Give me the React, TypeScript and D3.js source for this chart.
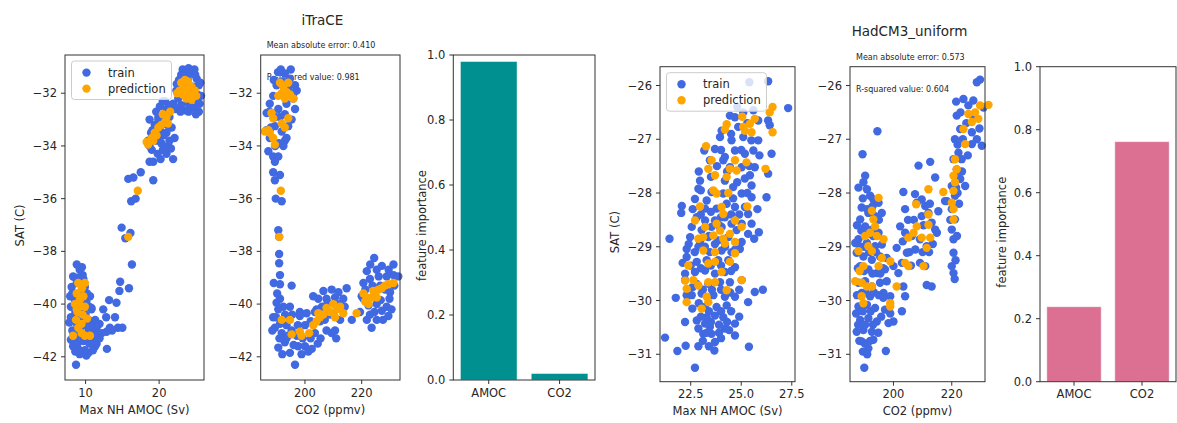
import * as d3 from 'd3';

// ---- data ----
const legendLabels = ['train', 'prediction'];
const featureNames = ['AMOC', 'CO2'];
const itraceImportance = [0.98, 0.02];
const hadcmImportance = [0.238, 0.762];

const satTicksItrace = [-42, -40, -38, -36, -34, -32];
const satTicksHadcm = [-31, -30, -29, -28, -27, -26];
const amocTicksItrace = [10, 20];
const amocTicksHadcm = [22.5, 25.0, 27.5];
const co2Ticks = [200, 220];
const importanceTicks = [0, 0.2, 0.4, 0.6, 0.8, 1.0];

const itraceAmocTrain = [
	[23.2, -31.1], [23.7, -31.2], [24.4, -31.25], [25.1, -31.45], [25.4, -31.7], [25.2, -32.05], [25.5, -32.4], [25.4, -32.7],
	[24.75, -32.55], [24.2, -32.5], [23.5, -32.65], [23.0, -32.45], [22.6, -32.2], [22.35, -31.9], [22.7, -31.5], [21.9, -32.4],
	[21.45, -32.45], [20.8, -32.3], [23.9, -31.5], [24.6, -31.75], [23.7, -32.1], [25.05, -32.25], [23.3, -31.85], [24.25, -31.95],
	[24.9, -31.3], [23.0, -31.3], [22.2, -32.6], [24.0, -31.05], [24.8, -31.1], [25.6, -31.6], [25.7, -32.1], [23.9, -32.35],
	[22.9, -32.7], [24.0, -32.7], [25.0, -32.8], [22.4, -31.65], [21.3, -32.7],
	[18.7, -33.0], [19.6, -32.7], [20.1, -32.5], [20.5, -32.3], [21.0, -32.6], [21.4, -32.9], [21.7, -33.3], [22.1, -33.7],
	[21.9, -34.5], [19.2, -34.6], [19.0, -34.15], [18.7, -34.0], [19.6, -33.8], [20.5, -34.15], [21.2, -34.0], [21.0, -33.5],
	[20.1, -33.4], [19.4, -33.2], [18.9, -33.5], [18.5, -33.8], [19.9, -33.0], [20.7, -33.1], [21.4, -33.8], [20.3, -33.9],
	[19.8, -34.3], [21.6, -34.1], [19.3, -33.6], [20.0, -33.75], [20.6, -33.6], [21.0, -34.3], [19.9, -32.9], [19.1, -33.4],
	[20.9, -32.9], [18.7, -34.6], [20.2, -34.5], [21.1, -33.2],
	[19.2, -35.3], [15.8, -35.25], [16.5, -35.2], [17.5, -35.0], [16.2, -36.1], [16.8, -36.0], [14.9, -37.1], [15.4, -37.5],
	[16.1, -37.3], [16.3, -38.5], [15.9, -39.4], [14.7, -39.15], [14.6, -39.5], [13.2, -39.85], [14.2, -39.95],
	[12.4, -40.2], [12.8, -40.5], [14.0, -40.5], [13.3, -40.9], [14.4, -40.9], [15.0, -40.9], [13.6, -41.0], [12.85, -41.05],
	[12.9, -41.7], [11.9, -40.75], [11.5, -40.9], [12.2, -41.1], [11.3, -40.6], [10.8, -40.15], [11.3, -41.6], [10.4, -41.85],
	[8.8, -38.5], [9.2, -38.7], [8.3, -38.95], [9.6, -38.9], [8.1, -39.35], [8.8, -39.2], [9.9, -39.35], [7.9, -39.7],
	[8.55, -39.85], [10.6, -39.7], [8.0, -40.1], [10.5, -40.1], [10.8, -40.2], [7.8, -40.7], [8.4, -40.5], [10.4, -40.6],
	[11.3, -40.8], [8.2, -41.0], [9.2, -41.0], [10.7, -41.0], [11.5, -41.1], [8.55, -41.35], [9.7, -41.4], [10.8, -41.3],
	[11.5, -41.5], [9.0, -41.7], [9.2, -41.9], [10.1, -41.95], [8.7, -42.3], [9.9, -41.75], [11.0, -41.75], [8.0, -41.35],
	[9.45, -41.1], [10.2, -41.1], [8.8, -40.75], [9.7, -40.35], [9.1, -39.6], [10.2, -39.6], [8.9, -40.1], [10.05, -40.0],
	[8.4, -39.6], [9.5, -38.6], [8.6, -39.0], [9.0, -39.0], [9.4, -39.1], [8.2, -39.6], [8.6, -40.3], [9.3, -40.5],
	[10.0, -40.4], [10.4, -40.9], [9.9, -40.8], [8.5, -41.1], [9.0, -41.2], [8.3, -41.6], [8.9, -41.5], [9.6, -41.8],
	[10.5, -41.5], [10.0, -41.3], [11.0, -41.3], [10.8, -40.7], [11.9, -41.3], [9.7, -39.05], [10.1, -39.9], [8.0, -40.5],
	[8.6, -41.8]
];
const itraceAmocPred = [
	[23.0, -31.6], [23.5, -31.5], [23.9, -31.55], [24.4, -31.75], [24.85, -31.9], [25.05, -32.1], [24.4, -32.25], [23.7, -32.2],
	[23.2, -32.05], [22.8, -31.9], [23.7, -31.85], [24.2, -32.0], [24.6, -32.0], [23.4, -31.75], [22.45, -32.0],
	[18.3, -33.85], [18.5, -33.95], [19.0, -33.7], [19.4, -33.5], [19.9, -33.3], [20.3, -33.2], [20.8, -33.1], [21.0, -32.9],
	[20.5, -32.8], [21.2, -33.15], [19.65, -33.6], [21.5, -32.7], [19.2, -33.8],
	[17.1, -35.7], [15.8, -37.45],
	[9.0, -39.2], [9.9, -39.2], [9.5, -39.4], [8.8, -39.6], [9.7, -39.7], [8.55, -40.0], [9.2, -40.05], [9.9, -40.1],
	[8.9, -40.3], [9.6, -40.4], [8.7, -40.6], [9.45, -40.75], [10.2, -40.55], [9.0, -40.9], [8.3, -41.2], [9.45, -41.1],
	[9.9, -41.2], [10.6, -41.2], [9.2, -39.85], [8.8, -40.2]
];

const itraceCo2Train = [
	[191.5, -31.1], [192.9, -31.25], [194.7, -31.45], [196.5, -31.7], [197.1, -31.9], [195.9, -32.2], [196.5, -32.6], [190.0, -31.7],
	[188.8, -32.1], [187.6, -32.4], [188.2, -32.75], [190.6, -32.6], [192.9, -32.8], [194.1, -33.25], [191.8, -33.45], [189.4, -33.25],
	[187.6, -33.7], [192.9, -33.8], [192.4, -34.0], [187.1, -34.2], [188.8, -34.4], [190.6, -34.4], [189.4, -34.6], [188.8, -35.0],
	[189.4, -35.3], [191.2, -35.1], [189.7, -36.0], [191.8, -36.1], [190.6, -37.2], [190.9, -37.45], [190.9, -38.1], [190.9, -38.45],
	[191.2, -38.9], [191.2, -39.25], [195.3, -39.3], [191.2, -39.8], [190.0, -39.95], [194.7, -40.1], [198.2, -40.3], [194.1, -31.8],
	[186.5, -32.75], [186.5, -33.4], [193.5, -32.4], [195.3, -33.0], [189.0, -31.5], [190.5, -31.2], [192.0, -31.55], [193.3, -31.6],
	[195.0, -31.1], [187.5, -32.7], [189.5, -32.9], [191.2, -32.9], [193.5, -33.7], [190.8, -33.9], [188.0, -33.3], [196.0, -32.0],
	[189.5, -34.0],
	[188.8, -40.5], [190.6, -40.2], [192.4, -40.1], [189.4, -40.9], [191.8, -41.1], [193.5, -40.8], [195.3, -41.0], [190.6, -41.65],
	[192.9, -41.45], [194.7, -41.85], [196.5, -42.3], [197.6, -41.6], [198.8, -41.9], [200.0, -41.6], [201.2, -41.8], [202.4, -41.7],
	[198.2, -40.45], [200.0, -40.8], [197.1, -41.2], [191.2, -40.75], [193.5, -41.3], [189.8, -40.5], [191.0, -41.3], [192.0, -41.9],
	[194.0, -41.2], [196.0, -41.55], [195.5, -40.4], [197.5, -40.8], [199.2, -41.3], [202.0, -41.3], [204.5, -41.5], [193.0, -40.4],
	[188.5, -41.0], [190.2, -39.6], [189.0, -39.2],
	[202.9, -39.7], [204.7, -39.8], [204.1, -40.2], [206.5, -39.5], [207.6, -39.8], [209.4, -39.45], [210.6, -39.75], [211.8, -39.55],
	[213.5, -39.8], [214.7, -39.4], [205.3, -40.65], [202.0, -40.65], [207.6, -41.0], [209.4, -41.1], [210.6, -41.0], [212.4, -40.6],
	[208.8, -40.4], [203.5, -41.1], [200.6, -40.35], [216.5, -40.6], [203.5, -40.3], [206.0, -40.1], [208.0, -39.95], [210.0, -40.4],
	[212.0, -40.0], [214.0, -40.1], [205.5, -41.3], [207.0, -40.6], [211.0, -41.3],
	[224.4, -38.25], [231.2, -38.5], [221.8, -38.75], [225.3, -38.7], [227.1, -38.55], [228.8, -38.95], [231.2, -38.9], [220.6, -39.2],
	[222.9, -39.05], [226.5, -39.3], [228.2, -39.45], [230.0, -39.55], [220.6, -39.8], [222.4, -40.05], [225.3, -40.0], [227.1, -40.25],
	[228.8, -40.1], [229.4, -40.45], [221.8, -40.6], [223.5, -40.9], [225.3, -40.6], [220.0, -39.7], [232.9, -38.95], [219.4, -40.3],
	[223.0, -38.5], [226.0, -38.95], [229.5, -38.7], [221.3, -39.45], [223.8, -39.3], [226.7, -39.85], [229.8, -39.8], [231.5, -39.3],
	[222.9, -40.4], [224.5, -40.3], [227.5, -40.6], [230.5, -40.2]
];
const itraceCo2Pred = [
	[191.2, -31.6], [192.4, -31.75], [193.5, -31.95], [194.7, -32.05], [195.9, -32.2], [190.6, -32.1], [191.8, -32.0], [192.9, -32.2],
	[194.1, -31.6], [188.2, -32.75], [188.8, -32.95], [191.8, -33.15], [192.9, -33.3], [194.1, -32.95], [185.9, -33.45], [187.6, -33.5],
	[188.8, -33.7], [189.4, -33.95], [187.1, -33.4], [191.5, -35.7], [190.9, -37.45],
	[191.8, -40.6], [194.7, -40.6], [195.3, -41.15], [198.2, -41.05], [198.8, -41.2], [201.5, -41.1], [202.9, -40.8], [204.1, -40.65],
	[205.3, -40.5], [204.7, -40.35], [206.5, -40.4], [207.6, -40.15], [208.8, -40.3], [210.0, -40.0], [211.2, -40.2], [212.4, -40.1],
	[210.6, -40.5], [213.5, -40.35], [218.2, -40.35], [220.6, -39.6], [221.2, -39.9], [222.4, -40.0], [223.5, -39.75], [224.7, -39.6],
	[225.9, -39.45], [227.1, -39.4], [228.2, -39.3], [229.4, -39.25], [231.2, -39.2], [224.1, -39.5], [221.8, -39.75], [225.3, -39.75]
];

const hadcmAmocTrain = [
	[26.33, -25.92], [25.4, -25.94], [27.32, -26.42], [24.44, -26.56], [24.69, -26.59], [25.1, -26.5], [25.6, -26.46], [25.84, -26.65],
	[26.33, -26.65], [26.41, -26.74], [24.85, -26.77], [24.03, -26.84], [23.95, -26.96], [24.52, -27.02], [25.1, -26.96], [25.5, -27.02],
	[25.84, -27.02], [23.17, -27.21], [23.7, -27.18], [24.19, -27.33], [24.69, -27.21], [25.18, -27.27], [25.6, -27.21], [26.5, -27.27],
	[26.33, -27.64], [25.67, -27.52], [25.02, -27.52], [24.44, -27.52], [24.11, -27.39], [23.45, -27.39], [22.96, -27.77], [23.5, -27.7],
	[24.19, -27.77], [24.6, -27.89], [25.18, -27.73], [25.51, -27.86], [25.43, -27.67], [26.25, -28.08], [25.51, -28.08], [25.02, -28.01],
	[24.11, -28.01], [23.53, -27.98], [22.88, -27.92], [22.71, -28.11], [23.29, -28.14], [22.06, -28.24], [22.03, -28.37], [23.21, -28.29],
	[23.78, -28.29], [24.28, -28.2], [24.69, -28.26], [25.18, -28.26], [25.34, -28.39], [25.51, -28.57], [22.8, -28.45], [23.21, -28.51],
	[23.7, -28.51], [24.19, -28.45], [24.52, -28.57], [25.02, -28.57], [22.55, -28.63], [23.04, -28.69], [23.53, -28.63], [24.03, -28.63],
	[24.77, -28.69], [25.34, -28.76], [25.87, -28.73], [25.64, -28.85], [21.45, -28.85], [22.47, -28.82], [22.96, -28.91], [23.37, -28.82],
	[23.86, -28.88], [24.36, -28.82], [25.02, -28.91], [22.3, -29.04], [22.88, -29.0], [23.45, -29.1], [24.03, -29.07], [24.52, -29.1],
	[24.93, -29.04], [22.3, -29.19], [22.8, -29.28], [23.29, -29.25], [23.86, -29.25], [24.36, -29.25], [24.69, -29.38], [22.22, -29.5],
	[22.71, -29.47], [23.21, -29.44], [23.7, -29.5], [24.19, -29.47], [22.22, -29.62], [22.8, -29.69], [23.37, -29.69], [23.95, -29.66],
	[24.44, -29.66], [25.02, -29.62], [25.67, -29.84], [26.07, -29.8], [21.76, -29.95], [22.55, -29.9], [23.04, -29.87], [23.62, -29.9],
	[24.19, -29.93], [24.69, -29.93], [25.34, -30.03], [22.58, -30.15], [23.21, -30.12], [23.78, -30.12], [24.28, -30.09], [22.22, -30.4],
	[22.8, -30.37], [23.29, -30.31], [23.7, -30.28], [24.11, -30.31], [24.69, -30.43], [22.88, -30.52], [23.45, -30.49], [24.19, -30.52],
	[24.69, -30.65], [21.23, -30.69], [23.53, -30.62], [23.7, -30.77], [22.88, -30.85], [22.25, -30.84], [21.84, -30.94], [23.67, -30.93],
	[25.38, -30.86], [22.71, -31.25], [23.12, -30.62], [23.21, -30.43],
	[22.6, -28.3], [23.0, -28.4], [23.5, -28.35], [24.0, -28.45], [24.5, -28.4], [22.4, -28.95], [22.7, -29.1], [23.2, -29.0],
	[23.7, -28.95], [24.2, -29.0], [24.7, -29.05], [22.5, -29.35], [23.0, -29.4], [23.5, -29.35], [24.0, -29.35], [24.5, -29.45],
	[22.6, -29.75], [23.1, -29.8], [23.55, -29.8], [24.0, -29.8], [24.45, -29.85], [24.9, -29.8], [22.9, -30.05], [23.4, -30.2],
	[24.0, -30.2], [24.5, -30.2], [23.0, -30.3], [23.5, -30.4], [23.9, -30.45], [23.3, -30.6], [23.9, -30.6], [24.4, -30.55],
	[23.1, -30.75], [23.4, -30.85], [24.0, -30.7], [24.3, -30.4], [23.8, -27.5], [24.3, -27.6], [24.8, -27.8], [25.3, -28.0],
	[23.0, -27.95], [24.6, -28.1], [24.0, -27.2], [24.5, -26.9], [25.0, -27.2], [25.3, -26.7], [24.8, -26.4], [25.4, -27.5],
	[25.9, -27.3], [25.8, -28.3], [23.4, -28.8], [23.9, -28.6], [24.9, -28.4], [22.9, -27.6], [24.9, -30.3], [22.3, -29.9],
	[22.1, -29.3]
];
const hadcmAmocPred = [
	[26.55, -26.4], [26.41, -26.5], [25.67, -26.62], [25.43, -26.71], [25.1, -26.77], [25.05, -26.58], [25.51, -26.87], [25.18, -26.84],
	[24.28, -26.72], [24.19, -26.82], [26.55, -26.87], [23.26, -27.13], [23.53, -27.39], [23.37, -27.55], [23.7, -27.67], [24.69, -27.39],
	[25.26, -27.43], [24.44, -27.55], [24.77, -27.58], [24.28, -27.7], [26.2, -27.55], [23.62, -27.95], [23.78, -28.01], [24.36, -28.0],
	[24.03, -28.26], [24.11, -28.39], [25.3, -28.25], [22.96, -28.25], [22.71, -28.51], [23.21, -28.63], [23.78, -28.57], [23.95, -28.7],
	[24.69, -28.51], [25.02, -28.63], [22.88, -28.85], [23.12, -28.82], [23.62, -28.79], [24.11, -28.85], [24.44, -28.76], [24.69, -28.91],
	[23.12, -29.07], [23.7, -29.1], [24.19, -28.94], [24.69, -29.12], [23.37, -29.31], [23.7, -29.28], [24.44, -29.28], [24.03, -29.47],
	[22.38, -29.35], [22.22, -29.63], [22.63, -29.62], [22.88, -29.72], [23.37, -29.66], [23.7, -29.66], [22.3, -29.78], [25.02, -29.62],
	[24.28, -29.81], [23.29, -29.93], [22.3, -30.03], [23.04, -30.15], [23.37, -30.03]
];

const hadcmCo2Train = [
	[189.4, -27.28], [194.5, -26.85], [190.3, -27.68], [189.7, -27.8], [190.9, -27.93], [192.0, -28.05], [193.1, -28.12], [194.9, -28.18],
	[189.1, -28.27], [191.4, -28.37], [193.7, -28.43], [196.0, -28.37], [188.6, -28.49], [190.3, -28.62], [192.6, -28.68], [194.9, -28.74],
	[188.0, -28.86], [190.9, -28.93], [193.7, -28.99], [196.0, -28.96], [187.4, -29.11], [189.7, -29.18], [192.6, -29.24], [195.4, -29.18],
	[197.7, -29.21], [188.6, -29.36], [191.4, -29.42], [194.3, -29.49], [197.1, -29.42], [188.0, -29.67], [190.3, -29.64], [192.6, -29.74],
	[195.4, -29.67], [197.7, -29.64], [189.1, -29.86], [192.0, -29.92], [196.6, -29.86], [198.9, -29.92], [188.0, -30.11], [190.9, -30.08],
	[193.7, -30.14], [197.1, -30.17], [188.6, -30.36], [191.4, -30.33], [194.3, -30.39], [198.3, -30.42], [187.4, -30.58], [189.7, -30.55],
	[192.6, -30.58], [189.1, -30.76], [191.4, -30.89], [193.1, -30.73], [197.4, -30.94], [190.0, -31.25], [187.2, -30.24], [198.9, -30.24],
	[186.9, -28.93], [188.0, -27.9], [189.5, -28.1], [191.0, -28.3], [192.8, -28.25], [194.0, -28.5], [189.0, -28.7], [191.5, -28.75],
	[193.0, -28.8], [195.0, -28.5], [187.5, -28.6], [188.5, -29.0], [190.0, -29.0], [191.7, -29.1], [194.0, -29.1], [196.5, -29.4],
	[187.8, -29.4], [189.9, -29.45], [192.8, -29.5], [195.5, -29.5], [187.5, -29.9], [190.5, -29.85], [193.3, -29.85], [195.0, -29.9],
	[189.5, -30.2], [192.2, -30.2], [195.8, -30.3], [187.9, -30.45], [190.3, -30.45], [193.0, -30.45], [188.3, -30.75], [190.2, -30.8],
	[192.0, -30.75], [189.5, -30.95], [196.5, -29.95], [191.0, -31.0], [194.8, -30.6],
	[203.4, -27.98], [208.6, -27.49], [212.6, -27.42], [214.3, -27.71], [204.0, -28.3], [207.4, -28.02], [208.0, -28.18], [209.7, -28.12],
	[210.9, -28.24], [212.0, -28.37], [209.7, -28.43], [213.1, -28.55], [214.3, -28.68], [202.3, -28.62], [204.0, -28.74], [206.3, -28.8],
	[209.1, -28.86], [211.4, -28.99], [214.9, -28.74], [201.1, -29.02], [204.6, -29.11], [202.9, -29.3], [201.7, -29.49], [200.0, -29.36],
	[209.1, -29.3], [210.9, -29.36], [211.4, -29.71], [213.1, -29.74], [203.4, -29.74], [204.0, -29.92], [202.9, -30.2], [200.0, -30.39],
	[215.4, -28.34], [217.7, -28.15], [205.0, -28.5], [207.0, -28.5], [210.3, -28.6], [212.5, -28.2], [203.2, -28.9], [205.5, -29.1],
	[207.5, -29.05], [210.0, -29.1], [212.2, -29.1], [206.0, -29.35], [213.5, -28.95],
	[229.7, -25.89], [228.6, -25.94], [224.0, -26.25], [225.7, -26.37], [227.4, -26.28], [230.9, -26.41], [221.7, -26.56], [222.9, -26.81],
	[226.9, -26.87], [228.6, -27.0], [230.3, -27.12], [226.9, -27.09], [221.1, -27.0], [222.3, -27.25], [220.6, -27.37], [221.7, -27.56],
	[222.9, -27.74], [220.0, -27.87], [221.1, -28.05], [218.3, -28.15], [220.0, -28.3], [221.1, -28.49], [220.0, -28.68], [220.6, -28.86],
	[220.6, -29.11], [220.0, -29.36], [220.6, -29.49], [223.4, -27.37], [224.6, -27.87], [221.1, -27.68], [221.5, -26.3], [223.0, -26.5],
	[225.0, -26.7], [227.5, -26.6], [229.5, -26.8], [222.0, -27.1], [223.8, -27.0], [225.5, -27.3], [221.5, -27.9], [222.5, -28.2],
	[221.8, -28.8], [221.3, -29.25], [219.5, -28.5], [221.0, -29.6], [222.0, -28.0], [223.5, -27.6]
];
const hadcmCo2Pred = [
	[229.7, -26.37], [232.6, -26.36], [228.0, -26.5], [225.7, -26.53], [229.1, -26.62], [226.9, -26.68], [224.0, -26.81], [224.6, -27.09],
	[221.1, -27.37], [221.7, -27.56], [220.6, -27.68], [221.1, -27.8], [220.6, -27.96], [217.1, -27.98], [220.0, -28.18], [220.6, -28.3],
	[220.6, -28.49], [212.0, -27.93], [207.8, -28.21], [212.0, -28.4], [212.0, -28.59], [208.0, -28.62], [206.9, -28.74], [205.1, -28.83],
	[209.7, -28.83], [212.6, -28.83], [211.4, -29.02], [204.0, -29.3], [205.1, -29.36], [210.3, -29.36], [201.1, -29.74],
	[194.9, -28.09], [192.6, -28.33], [193.1, -28.49], [193.7, -28.62], [192.0, -28.74], [190.3, -28.8], [194.3, -28.8], [196.6, -28.86],
	[191.4, -28.99], [192.6, -29.08], [196.0, -29.21], [198.9, -29.27], [194.9, -29.36], [189.7, -29.36], [188.0, -29.08], [186.9, -29.64],
	[189.1, -29.67], [190.9, -29.74], [192.6, -29.74], [189.1, -29.92], [189.7, -30.05], [198.9, -30.05], [198.9, -30.11], [188.4, -29.45]
];

// ---- style ----
const FONT = '"DejaVu Sans", sans-serif';
const TXT = '#262626';
const AXIS = '#333';
const TRAIN = '#4169e1';
const PRED = '#ffa500';
const R = 4.2;
const fmtInt = d3.format('d');
const fmt1 = d3.format('.1f');

function Frame({x, y, w, h}){
	return <rect x={x} y={y} width={w} height={h} fill="none" stroke={AXIS} strokeWidth={1}/>;
}

function YAxis({scale, ticks, x, fmt}){
	return <g>
		{ticks.map((t, i)=>{
			let ty = scale(t);
			return <g key={i}>
				<line x1={x - 4} x2={x} y1={ty} y2={ty} stroke={AXIS}/>
				<text x={x - 8} y={ty} dy="0.35em" textAnchor="end" fontSize={11.5} fill={TXT}>{fmt(t)}</text>
			</g>;
		})}
	</g>;
}

function XAxis({scale, ticks, y, fmt}){
	return <g>
		{ticks.map((t, i)=>{
			let tx = scale(t);
			return <g key={i}>
				<line x1={tx} x2={tx} y1={y} y2={y + 4} stroke={AXIS}/>
				<text x={tx} y={y + 8} dy="0.76em" textAnchor="middle" fontSize={11.5} fill={TXT}>{fmt(t)}</text>
			</g>;
		})}
	</g>;
}

function Legend({x, y}){
	return <g>
		<rect x={x} y={y} width={100} height={38.5} rx={3} fill="#fff" fillOpacity={0.8} stroke="#ccc" strokeWidth={1}/>
		{legendLabels.map((l, i)=>{
			return <g key={i}>
				<circle cx={x + 15} cy={y + 11.6 + i * 16} r={R} fill={i ? PRED : TRAIN}/>
				<text x={x + 36.5} y={y + 11.6 + i * 16} dy="0.35em" fontSize={11.5} fill={TXT}>{l}</text>
			</g>;
		})}
	</g>;
}

function Scatter({f, xDomain, yDomain, xTicks, yTicks, xFmt, train, pred, xLabel, yLabel, legend, stats}){
	let sx = d3.scaleLinear().domain(xDomain).range([f.x, f.x + f.w])
		, sy = d3.scaleLinear().domain(yDomain).range([f.y + f.h, f.y])
		;

	return <g>
		{stats ? <g>
			<text x={f.x + 6} y={f.y - 10} dy="0.35em" fontSize={8} fill={TXT}>{stats[0]}</text>
			<text x={f.x + 6} y={f.y + 22.5} dy="0.35em" fontSize={8} fill={TXT}>{stats[1]}</text>
		</g> : null}
		{train.map((d, i)=><circle key={'t' + i} cx={sx(d[0])} cy={sy(d[1])} r={R} fill={TRAIN}/>)}
		{pred.map((d, i)=><circle key={'p' + i} cx={sx(d[0])} cy={sy(d[1])} r={R} fill={PRED}/>)}
		<Frame {...f}/>
		<YAxis scale={sy} ticks={yTicks} x={f.x} fmt={fmtInt}/>
		<XAxis scale={sx} ticks={xTicks} y={f.y + f.h} fmt={xFmt}/>
		<text x={f.x + f.w / 2} y={f.y + f.h + 29.5} dy="0.35em" textAnchor="middle" fontSize={11.5} fill={TXT}>{xLabel}</text>
		{yLabel ? <text transform={`translate(${f.x - 45},${f.y + f.h / 2 + 8}) rotate(-90)`} dy="0.35em" textAnchor="middle" fontSize={11.5} fill={TXT}>{yLabel}</text> : null}
		{legend ? <Legend x={f.x + 6.5} y={f.y + 6}/> : null}
	</g>;
}

function Bars({f, values, color, labelOffset}){
	let sx = d3.scaleBand().domain(featureNames).range([f.x, f.x + f.w]).paddingInner(0.2).paddingOuter(0.1)
		, sy = d3.scaleLinear().domain([0, 1]).range([f.y + f.h, f.y])
		;

	return <g>
		{values.map((v, i)=><rect key={i} x={sx(featureNames[i])} width={sx.bandwidth()} y={sy(v)} height={sy(0) - sy(v)}
			fill={color} stroke="#fff" strokeOpacity={0.6} strokeWidth={0.8}/>)}
		<Frame {...f}/>
		<YAxis scale={sy} ticks={importanceTicks} x={f.x} fmt={fmt1}/>
		{featureNames.map((n, i)=>{
			let tx = sx(n) + sx.bandwidth() / 2;
			return <g key={i}>
				<line x1={tx} x2={tx} y1={f.y + f.h} y2={f.y + f.h + 4} stroke={AXIS}/>
				<text x={tx} y={f.y + f.h + 8} dy="0.76em" textAnchor="middle" fontSize={11.5} fill={TXT}>{n}</text>
			</g>;
		})}
		<text transform={`translate(${f.x - labelOffset},${f.y + f.h / 2 + 8}) rotate(-90)`} dy="0.35em" textAnchor="middle" fontSize={11.5} fill={TXT}>feature importance</text>
	</g>;
}

export default function App(){
	let p1 = {x: 65, y: 55, w: 139, h: 325}
		, p2 = {x: 260.7, y: 55, w: 139.3, h: 325}
		, p3 = {x: 453.3, y: 55, w: 141.7, h: 325}
		, p4 = {x: 660, y: 66.7, w: 135, h: 315}
		, p5 = {x: 850, y: 66.7, w: 135, h: 315}
		, p6 = {x: 1040, y: 66.7, w: 136, h: 315}
		;

	return <svg width={1177} height={423} style={{position: 'absolute', left: 0, top: 0, background: '#fff'}} fontFamily={FONT}>
		<text x={p2.x + p2.w / 2 - 8} y={p2.y - 35} dy="0.35em" textAnchor="middle" fontSize={13.5} fill={TXT}>iTraCE</text>
		<text x={p5.x + p5.w / 2 - 8} y={p5.y - 35} dy="0.35em" textAnchor="middle" fontSize={13.5} fill={TXT}>HadCM3_uniform</text>

		<Scatter f={p1} xDomain={[7.2, 26.1]} yDomain={[-42.88, -30.55]} xTicks={amocTicksItrace} yTicks={satTicksItrace} xFmt={fmtInt}
			train={itraceAmocTrain} pred={itraceAmocPred} xLabel="Max NH AMOC (Sv)" yLabel="SAT (C)" legend/>
		<Scatter f={p2} xDomain={[184.4, 233.5]} yDomain={[-42.88, -30.55]} xTicks={co2Ticks} yTicks={satTicksItrace} xFmt={fmtInt}
			train={itraceCo2Train} pred={itraceCo2Pred} xLabel="CO2 (ppmv)"
			stats={['Mean absolute error: 0.410', 'R-squared value: 0.981']}/>
		<Bars f={p3} values={itraceImportance} color="#009090" labelOffset={31}/>

		<Scatter f={p4} xDomain={[20.98, 27.66]} yDomain={[-31.51, -25.65]} xTicks={amocTicksHadcm} yTicks={satTicksHadcm} xFmt={fmt1}
			train={hadcmAmocTrain} pred={hadcmAmocPred} xLabel="Max NH AMOC (Sv)" yLabel="SAT (C)" legend/>
		<Scatter f={p5} xDomain={[185.1, 231.4]} yDomain={[-31.51, -25.65]} xTicks={co2Ticks} yTicks={satTicksHadcm} xFmt={fmtInt}
			train={hadcmCo2Train} pred={hadcmCo2Pred} xLabel="CO2 (ppmv)"
			stats={['Mean absolute error: 0.573', 'R-squared value: 0.604']}/>
		<Bars f={p6} values={hadcmImportance} color="#db7093" labelOffset={38}/>
	</svg>;
}
